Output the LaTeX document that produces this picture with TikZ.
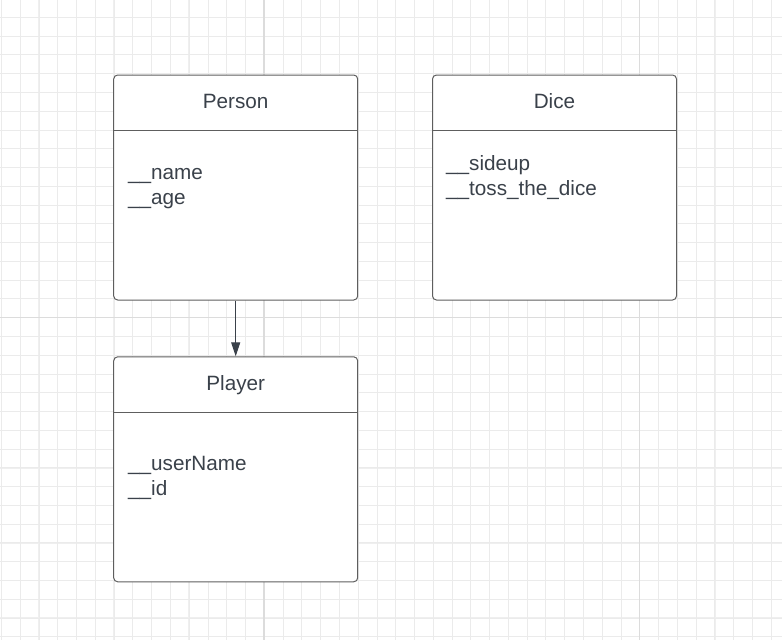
\documentclass[tikz,border=0pt]{standalone}
\usepackage{fontspec}
\setmainfont{Liberation Sans}
\usetikzlibrary{arrows.meta,calc}
\definecolor{ink}{HTML}{3A414A}
\definecolor{edgec}{HTML}{5E5E5E}
\definecolor{gminor}{HTML}{EBEBEB}
\definecolor{gmid}{HTML}{EFEFEF}
\definecolor{gmajor}{HTML}{DCDCDC}
\begin{document}
\begin{tikzpicture}[x=1pt,y=-1pt,
  classbox/.style={draw=edgec, fill=white, line width=1pt, rounded corners=4pt,
    minimum width=244pt, minimum height=225pt, inner sep=0pt, anchor=north west},
  divider/.style={draw=edgec, line width=1pt},
  titletext/.style={text=ink, inner sep=0pt, anchor=base, font=\fontsize{20.7}{24.8}\selectfont},
  attrtext/.style={text=ink, inner sep=0pt, anchor=base west, font=\fontsize{20.7}{24.8}\selectfont},
  link/.style={draw=ink, line width=1pt, -{Triangle[length=14pt,width=9pt]}}
]
\useasboundingbox (0,0) rectangle (782,640);
\fill[white] (0,0) rectangle (782,640);
% grid
\foreach \k in {2,6,...,42}{
  \pgfmathsetmacro\xx{1.5+\k*18.77}
  \draw[gmid, line width=1.5pt] (\xx,0) -- (\xx,640);
}
\foreach \k in {0,4,...,32}{
  \pgfmathsetmacro\yy{17.3+\k*18.77}
  \draw[gmid, line width=1.5pt] (0,\yy) -- (782,\yy);
}
\foreach \k in {0,...,41}{
  \pgfmathsetmacro\xx{1.5+\k*18.77}
  \draw[gminor, line width=0.8pt] (\xx,0) -- (\xx,640);
}
\foreach \k in {0,...,33}{
  \pgfmathsetmacro\yy{17.3+\k*18.77}
  \draw[gminor, line width=0.8pt] (0,\yy) -- (782,\yy);
}
\foreach \k in {14,34}{
  \pgfmathsetmacro\xx{1.5+\k*18.77}
  \draw[gmajor, line width=1.6pt] (\xx,0) -- (\xx,640);
}
\draw[gmajor, line width=1.6pt] (0,317.6) -- (782,317.6);

% boxes
\node[classbox] (person) at (113.2,74.5) {};
\node[classbox] (dice) at (432,74.5) {};
\node[classbox] (player) at (113.2,356.3) {};

\foreach \b in {person,dice,player}{
  \draw[divider] ($(\b.north west)+(0,55.7)$) -- ($(\b.north east)+(0,55.7)$);
}

\node[titletext] (persontitle) at ($(person.north)+(0,34)$) {Person};
\node[titletext] (dicetitle) at ($(dice.north)+(0,33.5)$) {Dice};
\node[titletext] (playertitle) at ($(player.north)+(0,34.5)$) {Player};

\node[attrtext] (pname) at (128,179) {\_\_name};
\node[attrtext] (page) at (128,204) {\_\_age};
\node[attrtext] (dside) at (446,170) {\_\_sideup};
\node[attrtext] (dtoss) at (446,195) {\_\_toss\_the\_dice};
\node[attrtext] (uname) at (128,470) {\_\_userName};
\node[attrtext] (uid) at (128,495) {\_\_id};

\draw[link] (person.south) -- (player.north);
\end{tikzpicture}
\end{document}
